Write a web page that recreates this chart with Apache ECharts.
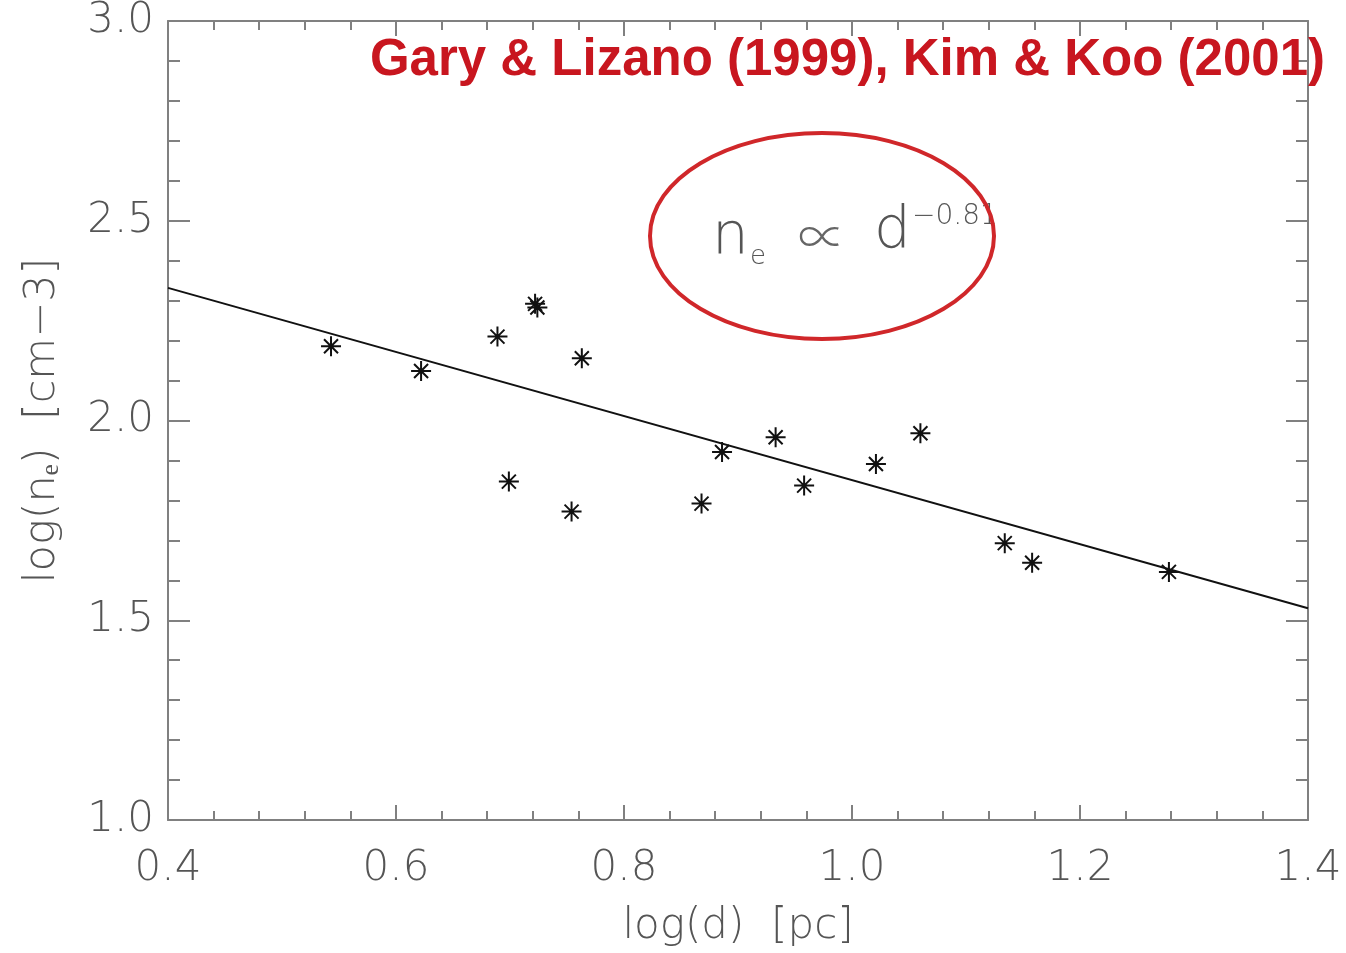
<!DOCTYPE html>
<html>
<head>
<meta charset="utf-8">
<script src="https://cdn.jsdelivr.net/npm/echarts@6/dist/echarts.min.js"></script>
<style>
  html, body { margin: 0; padding: 0; background: #fff; }
  #chart { width: 1346px; height: 953px; }
</style>
</head>
<body>
<div id="chart"></div>
<script>
// measured points: log(d) [pc] vs log(n_e) [cm-3]
const logD = [0.543, 0.622, 0.689, 0.699, 0.722, 0.724, 0.754, 0.763, 0.868, 0.886, 0.933, 0.958, 1.021, 1.060, 1.134, 1.158, 1.278]
const logNe = [2.186, 2.124, 2.210, 1.847, 2.292, 2.283, 1.772, 2.156, 1.792, 1.921, 1.958, 1.837, 1.891, 1.968, 1.693, 1.644, 1.621]
// fitted power law line end points
const fitX = [0.4, 1.4]
const fitY = [2.332, 1.530]

const xTicks = ['0.4', '0.6', '0.8', '1.0', '1.2', '1.4']
const yTicks = ['1.0', '1.5', '2.0', '2.5', '3.0']

const axisGray = '#808080'
const labelGray = '#555'
const red = '#c8161f'

const chart = echarts.init(document.getElementById('chart'))

const axisCommon = {
  type: 'value',
  axisLine: { show: true, lineStyle: { color: axisGray, width: 2 } },
  splitLine: { show: false }
}

const option = {
  backgroundColor: '#fff',
  animation: false,
  title: {
    text: 'Gary & Lizano (1999), Kim & Koo (2001)',
    right: 21,
    top: 35,
    padding: 0,
    textStyle: { color: red, fontSize: 51, fontWeight: 'bold', fontFamily: 'Liberation Sans' }
  },
  grid: { left: 168, right: 38, top: 13, bottom: 131 },
  xAxis: [
    Object.assign({}, axisCommon, {
      min: 0.4, max: 1.4, interval: 0.2,
      name: 'log(d)  [pc]',
      nameLocation: 'middle',
      nameGap: 86,
      nameTextStyle: { color: labelGray, fontSize: 42, fontFamily: 'DejaVu Sans', fontWeight: 200 },
      axisTick: { show: true, inside: true, length: 15, lineStyle: { color: axisGray, width: 2 } },
      minorTick: { show: true, splitNumber: 5, length: 9, lineStyle: { color: axisGray, width: 2 } },
      axisLabel: {
        margin: 28, color: labelGray, fontSize: 42, fontFamily: 'DejaVu Sans', fontWeight: 200,
        formatter: v => xTicks.find(t => Math.abs(parseFloat(t) - v) < 1e-6) || ''
      }
    }),
    Object.assign({}, axisCommon, {
      min: 0.4, max: 1.4, interval: 0.2, position: 'top',
      axisTick: { show: true, inside: true, length: 15, lineStyle: { color: axisGray, width: 2 } },
      minorTick: { show: true, splitNumber: 5, length: 9, lineStyle: { color: axisGray, width: 2 } },
      axisLabel: { show: false }
    })
  ],
  yAxis: [
    Object.assign({}, axisCommon, {
      min: 1.0, max: 3.0, interval: 0.5,
      name: 'log(nₑ)  [cm−3]',
      nameLocation: 'middle',
      nameGap: 104,
      nameTextStyle: { color: labelGray, fontSize: 43, fontFamily: 'DejaVu Sans', fontWeight: 200 },
      axisTick: { show: true, inside: true, length: 22, lineStyle: { color: axisGray, width: 2 } },
      minorTick: { show: true, splitNumber: 5, length: 12, lineStyle: { color: axisGray, width: 2 } },
      axisLabel: {
        margin: 14, color: labelGray, fontSize: 42, fontFamily: 'DejaVu Sans', fontWeight: 200,
        formatter: v => yTicks.find(t => Math.abs(parseFloat(t) - v) < 1e-6) || ''
      }
    }),
    Object.assign({}, axisCommon, {
      min: 1.0, max: 3.0, interval: 0.5, position: 'right',
      axisTick: { show: true, inside: true, length: 22, lineStyle: { color: axisGray, width: 2 } },
      minorTick: { show: true, splitNumber: 5, length: 12, lineStyle: { color: axisGray, width: 2 } },
      axisLabel: { show: false }
    })
  ],
  series: [
    {
      type: 'line',
      data: fitX.map((x, i) => [x, fitY[i]]),
      symbol: 'none',
      lineStyle: { color: '#111', width: 2 },
      z: 2
    },
    {
      type: 'scatter',
      data: logD.map((x, i) => [x, logNe[i]]),
      symbol: 'path://M0 10 L20 10 M10 0 L10 20 M3 3 L17 17 M3 17 L17 3',
      symbolSize: 20,
      itemStyle: { color: 'transparent', borderColor: '#111', borderWidth: 2, opacity: 1 },
      z: 3
    }
  ],
  graphic: [
    {
      type: 'ellipse',
      shape: { cx: 822, cy: 236, rx: 172, ry: 103 },
      style: { fill: 'none', stroke: '#d0272a', lineWidth: 4 },
      z: 10
    },
    { type: 'text', left: 712, top: 210, style: { text: 'n', fill: labelGray, font: '200 58px "DejaVu Sans"' } },
    { type: 'text', left: 750, top: 244, style: { text: 'e', fill: labelGray, font: '200 26px "DejaVu Sans"' } },
    { type: 'text', left: 798, top: 212, style: { text: '∝', fill: '#666', font: '300 48px "Noto Sans CJK SC"' } },
    { type: 'text', left: 874, top: 204, style: { text: 'd', fill: labelGray, font: '200 58px "DejaVu Sans"' } },
    { type: 'text', left: 912, top: 203, style: { text: '−0.81', fill: labelGray, font: '200 28px "DejaVu Sans"' } }
  ]
}

chart.setOption(option)
</script>
</body>
</html>
